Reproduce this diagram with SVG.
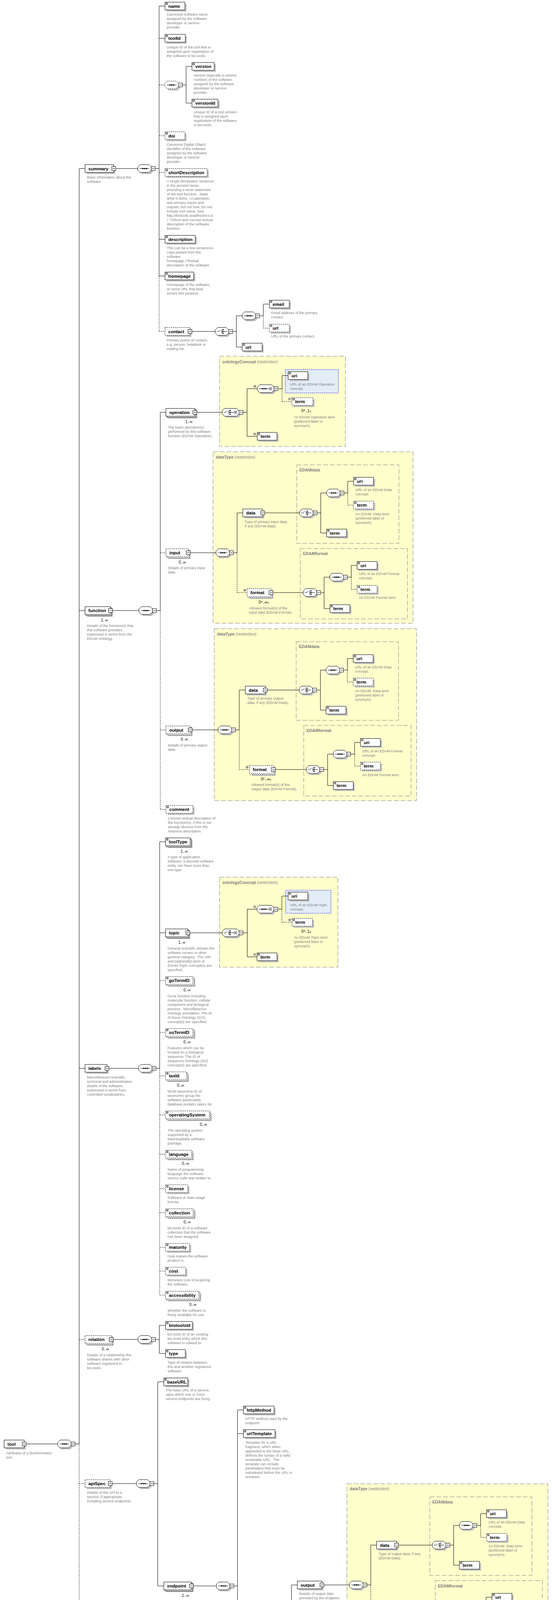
<svg xmlns="http://www.w3.org/2000/svg" xmlns:xlink="http://www.w3.org/1999/xlink" width="1412" height="7172" viewBox="0 0 1412 7172">
<style>
.s{fill:#c0c0c0}
.b{fill:#fff;stroke:#000}
.bo{fill:#fff;stroke:#000;stroke-dasharray:3 2}
.t{font:bold 11.5px "Liberation Sans",Arial,sans-serif;fill:#000}
.d{font:9.3px "Liberation Sans",Arial,sans-serif;fill:#808080}
.c{font:10px "Liberation Sans",Arial,sans-serif;fill:#000;text-anchor:end}
.pm{font-size:7.5px}
.yt{font:bold 10.5px "Liberation Sans",Arial,sans-serif;fill:#808080}
.yn{font-weight:normal}
.y{fill:#ffffcc;stroke:#808080;stroke-dasharray:12 5}
.yi{fill:none;stroke:#808080;stroke-dasharray:12 5}
.bl{fill:#e2edf8;stroke:#0000ff;stroke-dasharray:3 2}
.k{fill:none;stroke:#000}
.ds{fill:none;stroke:#000;stroke-dasharray:3 2}
</style>
<defs>
<g id="mi"><rect width="10" height="10" fill="#fff" stroke="#000"/><path d="M2 5h6" stroke="#000"/></g>
<g id="ic"><path d="M1.5 2h6M1.5 4h6M1.5 6h6" stroke="#000" stroke-width=".9"/></g>
<g id="ra"><path d="M2.5 17.5l3.5-3.5M3.5 14h2.5v2.5" stroke="#000" stroke-width=".9" fill="none"/></g>
<g id="ox"><circle r="3" fill="#e8e8e8" stroke="#555" stroke-width=".8"/><path d="M-1.5-1.5l3 3M1.5-1.5l-3 3" stroke="#000" stroke-width=".8"/></g>
<polygon id="o1" points="6,0 28.5,0 34.5,6 34.5,14 28.5,20 6,20 0,14 0,6"/>
<polygon id="o2" points="6,0 37,0 43,6 43,14 37,20 6,20 0,14 0,6"/>
<g id="iseq"><path d="M5 10h24.5" stroke="#000"/><path d="M11.5 8.5h3v3h-3zM16 8.5h3v3h-3zM20.5 8.5h3v3h-3z" fill="#000"/></g>
<g id="icho"><path d="M4 10h5l4.5-4M17 5v10M17 10h13" stroke="#000" fill="none"/><path d="M18.5 4h3v2.5h-3zM18.5 8.75h3v2.5h-3zM18.5 13.5h3v2.5h-3z" fill="#000"/></g>
<g id="iall"><path d="M4 10h6M10 5v10M10 5h2M10 15h2M23 5v10M21 5h2M21 15h2M23 10h7" stroke="#000" fill="none"/><path d="M15 4.5h3v2.5h-3zM15 8.75h3v2.5h-3zM15 13h3v2.5h-3z" fill="#000"/></g>
<g id="dd"><rect x="30.5" y="6.5" width="7" height="7" fill="#d8d8d8" stroke="#888"/><path d="M32 9h4l-2 2.5z" fill="#000"/></g>
<g id="seq"><use href="#o1" x="4" y="4" class="s"/><use href="#o1" class="b"/><use href="#iseq"/><use href="#mi" x="34.5" y="5"/></g>
<g id="seqo"><use href="#o1" x="4" y="4" class="s"/><use href="#o1" class="bo"/><use href="#iseq"/><use href="#mi" x="34.5" y="5"/></g>
<g id="cho"><use href="#o1" x="4" y="4" class="s"/><use href="#o1" class="b"/><use href="#icho"/><use href="#mi" x="34.5" y="5"/></g>
<g id="choo"><use href="#o1" x="4" y="4" class="s"/><use href="#o1" class="bo"/><use href="#icho"/><use href="#mi" x="34.5" y="5"/></g>
<g id="all"><use href="#o1" x="4" y="4" class="s"/><use href="#o1" class="b"/><use href="#iall"/><use href="#mi" x="34.5" y="5"/></g>
<g id="seqR"><use href="#o2" x="4" y="4" class="s"/><use href="#o2" class="b"/><use href="#iseq"/><use href="#dd"/><use href="#mi" x="43" y="5"/></g>
<g id="choR"><use href="#o2" x="4" y="4" class="s"/><use href="#o2" class="b"/><use href="#icho"/><use href="#dd"/><use href="#mi" x="43" y="5"/></g>
<g id="allR"><use href="#o2" x="4" y="4" class="s"/><use href="#o2" class="b"/><use href="#iall"/><use href="#dd"/><use href="#mi" x="43" y="5"/></g>
</defs>
<rect width="1412" height="7172" fill="#fff"/>

<g id="regions">
<rect class="y" x="561.5" y="912" width="322" height="231"/><text class="yt" x="568.5" y="929.5">ontologyConcept<tspan class="yn"> (restriction)</tspan></text>
<rect class="bl" x="730" y="946" width="135.5" height="60"/>
<rect class="y" x="545" y="1156.5" width="511.5" height="439"/><text class="yt" x="552" y="1173.5">dataType<tspan class="yn"> (restriction)</tspan></text>
<rect class="yi" x="759" y="1190" width="261.5" height="201"/><text class="yt" x="766" y="1206.5">EDAMdata</text>
<rect class="yi" x="768" y="1404.5" width="274.5" height="180"/><text class="yt" x="775" y="1421">EDAMformat</text>
<rect class="y" x="548" y="1609.5" width="517.5" height="440"/><text class="yt" x="555" y="1626.5">dataType<tspan class="yn"> (restriction)</tspan></text>
<rect class="yi" x="757.5" y="1643" width="262" height="201"/><text class="yt" x="764.5" y="1659">EDAMdata</text>
<rect class="yi" x="777" y="1857" width="274.5" height="181"/><text class="yt" x="784" y="1874">EDAMformat</text>
<rect class="y" x="561.5" y="2245.5" width="303" height="230.5"/><text class="yt" x="568.5" y="2262.5">ontologyConcept<tspan class="yn"> (restriction)</tspan></text>
<rect class="bl" x="730.5" y="2279" width="116" height="59"/>
<rect class="y" x="887.5" y="3798.5" width="514" height="439.5"/><text class="yt" x="894.5" y="3815">dataType<tspan class="yn"> (restriction)</tspan></text>
<rect class="yi" x="1099.5" y="3832" width="261" height="201"/><text class="yt" x="1106" y="3848.5">EDAMdata</text>
<rect class="yi" x="1113.5" y="4046.5" width="274" height="179.5"/><text class="yt" x="1120" y="4063.5">EDAMformat</text>
<rect class="y" x="1103.5" y="4439.5" width="261" height="202"/><text class="yt" x="1110" y="4456.5">EDAMdata</text>
<rect class="y" x="357.5" y="4748.5" width="228" height="244"/><text class="yt" x="364.5" y="4766">linkType<tspan class="yn"> (restriction)</tspan></text>
<rect class="bl" x="437" y="4842.5" width="131.5" height="70.5"/>
<rect class="y" x="356" y="5503.5" width="230.5" height="244"/><text class="yt" x="363" y="5520.5">linkType<tspan class="yn"> (restriction)</tspan></text>
<rect class="bl" x="436" y="5597.5" width="134.5" height="138"/>
</g>

<g id="connectors">
<path class="k" d="M62 3696.5H147.5M192 3696.5H202.5M202.5 431.5V3696.5M202.5 431.5H217.5M202.5 1563H217.5M202.5 2735H217.5"/>
<path class="ds" d="M202.5 3696.5V6961M202.5 3429H217.5M202.5 3798H217.5M202.5 4863H217.5M202.5 5228H217.5M202.5 5610H217.5M202.5 6094.5H217.5M202.5 6493.5H217.5M202.5 6961H217.5"/>
<path class="k" d="M291 431.5H352.5M397 431.5H407M407 15.5V706.5M407 15.5H422M407 98H422M407 612.5H422M407 706.5H422M466.5 217.5H476M476 170V264M476 170H491M476 264H491M486 848.5H550.5M595 848.5H604.5M604.5 808.5V888.5M604.5 808.5H619.5M604.5 888.5H619.5M664 808.5H673.5M673.5 778.5V808.5M673.5 778.5H689"/>
<path class="ds" d="M407 706.5V848.5M407 217.5H422M407 347.5H422M407 441.5H422M407 848.5H422M673.5 808.5V840M673.5 840H689"/>
<path class="k" d="M282.5 1563H355.5M400 1563H410M410 1055.5V1563M410 1055.5H424.5M498.5 1055.5H568.5M622 1055.5H632M632 995V1117M632 995H658M632 1117H658M711.5 995H721.5M721.5 961.5V995M721.5 961.5H737M481.5 1415H552.5M597 1415H606.5M606.5 1313V1415M606.5 1313H621M672 1313H766.5M811 1313H820.5M820.5 1262V1364.5M820.5 1262H835.5M820.5 1364.5H835.5M880 1262H889.5M889.5 1232V1262M889.5 1232H904.5M693 1517H775.5M820 1517H829M829 1477.5V1558M829 1477.5H844M829 1558H844M888.5 1477.5H898.5M898.5 1447.5V1477.5M898.5 1447.5H913.5M486.5 1868.5H558M602.5 1868.5H612M612 1766.5V1868.5M612 1766.5H627.5M678.5 1766.5H765.5M810 1766.5H819.5M819.5 1715.5V1818M819.5 1715.5H834M819.5 1818H834M878.5 1715.5H888.5M888.5 1686V1715.5M888.5 1686H903.5M699 1970H783.5M828 1970H838M838 1930.5V2011M838 1930.5H852.5M838 2011H852.5M897 1930.5H907M907 1900.5V1930.5M907 1900.5H922"/>
<path class="ds" d="M410 1563V2072M410 1415H424.5M410 1868.5H424.5M410 2072H424.5M721.5 995V1028M721.5 1028H746.5M606.5 1415V1517M606.5 1517H632M889.5 1262V1293M889.5 1293H904.5M898.5 1477.5V1508.5M898.5 1508.5H913.5M612 1868.5V1970M612 1970H638M888.5 1715.5V1746M888.5 1746H903.5M907 1930.5V1961M907 1961H922"/>
<path class="k" d="M273.5 2735H354.5M399 2735H408.5M408.5 2155V2735M408.5 2155H423.5M408.5 2388H423.5M480.5 2388H568.5M622 2388H632.5M632.5 2327.5V2449.5M632.5 2327.5H657.5M632.5 2449.5H657.5M711 2327.5H721M721 2294V2327.5M721 2294H737"/>
<path class="ds" d="M408.5 2735V3315.5M408.5 2510H423.5M408.5 2643H423.5M408.5 2754H423.5M408.5 2854H423.5M408.5 2954.5H423.5M408.5 3043H423.5M408.5 3104.5H423.5M408.5 3193H423.5M408.5 3254H423.5M408.5 3315.5H423.5M721 2327.5V2361M721 2361H747"/>
<path class="k" d="M284.5 3429H353M397.5 3429H407.5M407.5 3393V3465M407.5 3393H423.5M407.5 3465H423.5"/>
<path class="k" d="M282 3798H349M393.5 3798H403.5M403.5 3537.5V4060M403.5 3537.5H419M403.5 4060H419M489.5 4060H553.5M598 4060H607.5M607.5 3609.5V4240M607.5 3609.5H622.5M607.5 3670H622.5M607.5 4240H622.5M667 4240H676.5M676.5 4159V4323M676.5 4159H691.5M676.5 4323H692M736 4159H745.5M745.5 4057.5V4159M745.5 4057.5H760.5M823.5 4057.5H894M938.5 4057.5H948.5M948.5 3955.5V4057.5M948.5 3955.5H963.5M1014.5 3955.5H1106M1150.5 3955.5H1160.5M1160.5 3905V4007M1160.5 3905H1175M1160.5 4007H1175M1219.5 3905H1229.5M1229.5 3875V3905M1229.5 3875H1244.5M1035 4159H1120M1164.5 4159H1174.5M1174.5 4119V4200M1174.5 4119H1189.5M1174.5 4200H1189.5M1234 4119H1243.5M1243.5 4089V4119M1243.5 4089H1258.5M705.5 4512H760.5M805 4512H814.5M814.5 4355.5V4669M814.5 4355.5H828.5M814.5 4669H829M873.5 4669H883.5M883.5 4613V4725M883.5 4613H897M883.5 4725H897.5M941.5 4613H951.5M951.5 4563V4613M951.5 4563H966.5M1022.5 4563H1110M1154.5 4563H1164.5M1164.5 4512.5V4615M1164.5 4512.5H1179M1164.5 4615H1179M1223.5 4512.5H1233.5M1233.5 4482.5V4512.5M1233.5 4482.5H1248.5"/>
<path class="ds" d="M607.5 4240V4512M607.5 4512H622.5M745.5 4159V4261.5M745.5 4261.5H760.5M948.5 4057.5V4159M948.5 4159H973.5M1229.5 3905V3935.5M1229.5 3935.5H1244.5M1243.5 4119V4150.5M1243.5 4150.5H1258.5M951.5 4613V4664.5M951.5 4664.5H966.5M1233.5 4512.5V4543.5M1233.5 4543.5H1248.5"/>
<path class="k" d="M273.5 4863H364.5M418 4863H428M428 4791V4863M428 4791H443.5M428 4858H443.5"/>
<path class="ds" d="M428 4863V4936M428 4936H453.5"/>
<path class="k" d="M297.5 5228H353.5M398 5228H408M408 5015V5228M408 5015H423M408 5087.5H423"/>
<path class="ds" d="M408 5228V5441M408 5148H423M408 5209H423M408 5336H423M408 5441H423"/>
<path class="k" d="M326.5 5610H363.5M417 5610H427.5M427.5 5546V5613M427.5 5546H442.5M427.5 5613H442.5"/>
<path class="ds" d="M427.5 5613V5674.5M427.5 5674.5H452.5"/>
<path class="k" d="M303.5 6094.5H339.5M384 6094.5H393.5M393.5 5986.5V6094.5M393.5 5986.5H408M452.5 5986.5H462M462 5842.5V6130.5M462 5842.5H477M462 6022H477M462 6130.5H477M521.5 5842.5H531.5M531.5 5770V5842.5M531.5 5770H546M521.5 6022H531.5M531.5 5986V6022M531.5 5986H546M521.5 6130.5H532.5"/>
<path class="ds" d="M393.5 6094.5V6202M393.5 6202H408M531.5 5842.5V5914.5M531.5 5842.5H546M531.5 5914.5H546M531.5 6022V6058.5M531.5 6058.5H546"/>
<path class="k" d="M275.5 6493.5H358M402.5 6493.5H412M412 6252.5V6493.5M412 6252.5H426.5M412 6394H426M470.5 6394H480.5M480.5 6343V6446M480.5 6343H496M480.5 6446H495.5M540.5 6343H549.5M549.5 6313V6343M549.5 6313H564.5M470.5 6509H480.5M480.5 6479V6540M480.5 6479H495.5M480.5 6540H495.5"/>
<path class="ds" d="M412 6493.5V6734.5M412 6509H426M412 6612.5H426.5M412 6673.5H426.5M412 6734.5H426.5M549.5 6343V6374.5M549.5 6374.5H564.5"/>
<path class="k" d="M291.5 6961H358M402.5 6961H412M412 6784.5V7089M412 6784.5H426.5M412 6845.5H426.5M412 6906.5H426.5M412 6978H426.5M412 7039H426.5M412 7089H426.5"/>
<path class="ds" d="M412 7089V7139M412 7139H426.5"/>
</g>

<g id="compositors">
<use href="#seq" x="147.5" y="3686.5"/>
<use href="#seq" x="352.5" y="421.5"/><use href="#seqo" x="422" y="207.5"/><use href="#cho" x="550.5" y="838.5"/><use href="#seq" x="619.5" y="798.5"/>
<use href="#seq" x="355.5" y="1553"/><use href="#choR" x="568.5" y="1045.5"/><use href="#seqR" x="658" y="985"/><use href="#ox" x="652" y="989"/>
<use href="#seq" x="552.5" y="1405"/><use href="#cho" x="766.5" y="1303"/><use href="#seq" x="835.5" y="1252"/><use href="#cho" x="775.5" y="1507"/><use href="#seq" x="844" y="1467.5"/>
<use href="#seq" x="558" y="1858.5"/><use href="#cho" x="765.5" y="1756.5"/><use href="#seq" x="834" y="1705.5"/><use href="#cho" x="783.5" y="1960"/><use href="#seq" x="852.5" y="1920.5"/>
<use href="#seq" x="354.5" y="2725"/><use href="#choR" x="568.5" y="2378"/><use href="#seqR" x="657.5" y="2317.5"/><use href="#ox" x="651.5" y="2321.5"/>
<use href="#seq" x="353" y="3419"/>
<use href="#seq" x="349" y="3788"/><use href="#seq" x="553.5" y="4050"/><use href="#cho" x="622.5" y="4230"/><use href="#seq" x="691.5" y="4149"/><use href="#seq" x="894" y="4047.5"/><use href="#cho" x="1106" y="3945.5"/><use href="#seq" x="1175" y="3895"/><use href="#cho" x="1120" y="4149"/><use href="#seq" x="1189.5" y="4109"/>
<use href="#seq" x="760.5" y="4502"/><use href="#cho" x="829" y="4659"/><use href="#seq" x="897" y="4603"/><use href="#cho" x="1110" y="4553"/><use href="#seq" x="1179" y="4502.5"/>
<use href="#allR" x="364.5" y="4853"/>
<use href="#all" x="353.5" y="5218"/>
<use href="#allR" x="363.5" y="5600"/>
<use href="#seq" x="339.5" y="6084.5"/><use href="#cho" x="408" y="5976.5"/><use href="#seq" x="477" y="5832.5"/><use href="#seq" x="477" y="6012"/><use href="#seq" x="477" y="6120.5"/>
<use href="#seq" x="358" y="6483.5"/><use href="#cho" x="426" y="6384"/><use href="#seq" x="496" y="6333"/><use href="#choo" x="426" y="6499"/>
<use href="#seq" x="358" y="6951"/>
</g>

<g id="n-tool"><rect class="s" x="14.5" y="3690.5" width="51.5" height="20"/><rect class="b" x="10.5" y="3686.5" width="51.5" height="20"/><text class="t" x="19" y="3700.5">tool</text><use href="#mi" x="57" y="3691.5"/><text class="d" x="15.5" y="3722.5">Attributes of a bioinformatics<tspan x="15.5" dy="11">tool.</tspan></text></g>

<g id="n-summary"><rect class="s" x="221.5" y="425.5" width="73.5" height="20"/><rect class="b" x="217.5" y="421.5" width="73.5" height="20"/><text class="t" x="226" y="435.5">summary</text><use href="#mi" x="286" y="426.5"/><text class="d" x="222.5" y="457">Basic information about the<tspan x="222.5" dy="11">software.</tspan></text></g>
<g id="n-name"><rect class="s" x="426" y="9.5" width="51" height="20"/><rect class="b" x="422" y="5.5" width="51" height="20"/><use href="#ic" x="422" y="5.5"/><text class="t" x="430.5" y="19.5">name</text><text class="d" x="426.5" y="40.3">Canonical software name<tspan x="426.5" dy="11">assigned by the software</tspan><tspan x="426.5" dy="11">developer or service</tspan><tspan x="426.5" dy="11">provider.</tspan></text></g>
<g id="n-toolId"><rect class="s" x="426" y="92" width="52" height="20"/><rect class="b" x="422" y="88" width="52" height="20"/><use href="#ic" x="422" y="88"/><text class="t" x="430.5" y="102">toolId</text><text class="d" x="426.5" y="123.8">Unique ID of the tool that is<tspan x="426.5" dy="11">assigned upon registration of</tspan><tspan x="426.5" dy="11">the software in bio.tools.</tspan></text></g>
<g id="n-version"><rect class="s" x="495" y="164" width="57" height="20"/><rect class="b" x="491" y="160" width="57" height="20"/><use href="#ic" x="491" y="160"/><text class="t" x="499.5" y="174">version</text><text class="d" x="495.5" y="195.6">Version (typically a version<tspan x="495.5" dy="11">number) of the software</tspan><tspan x="495.5" dy="11">assigned by the software</tspan><tspan x="495.5" dy="11">developer or service</tspan><tspan x="495.5" dy="11">provider.</tspan></text></g>
<g id="n-versionId"><rect class="s" x="495" y="258" width="66.5" height="20"/><rect class="b" x="491" y="254" width="66.5" height="20"/><use href="#ic" x="491" y="254"/><text class="t" x="499.5" y="268">versionId</text><text class="d" x="495.5" y="289.8">Unique ID of a tool version<tspan x="495.5" dy="11">that is assigned upon</tspan><tspan x="495.5" dy="11">registration of the software</tspan><tspan x="495.5" dy="11">in bio.tools.</tspan></text></g>
<g id="n-doi"><rect class="s" x="426" y="341.5" width="51" height="20"/><rect class="bo" x="422" y="337.5" width="51" height="20"/><use href="#ic" x="422" y="337.5"/><text class="t" x="430.5" y="351.5">doi</text><text class="d" x="426.5" y="373">Canonical Digital Object<tspan x="426.5" dy="11">Identifier of the software</tspan><tspan x="426.5" dy="11">assigned by the software</tspan><tspan x="426.5" dy="11">developer or service</tspan><tspan x="426.5" dy="11">provider.</tspan></text></g>
<g id="n-shortDescription"><rect class="s" x="426" y="435.5" width="108" height="20"/><rect class="bo" x="422" y="431.5" width="108" height="20"/><use href="#ic" x="422" y="431.5"/><text class="t" x="430.5" y="445.5">shortDescription</text><text class="d" x="426.5" y="467">A single declarative sentence<tspan x="426.5" dy="11">in the present tense,</tspan><tspan x="426.5" dy="11">providing a terse statement</tspan><tspan x="426.5" dy="11">of the tool function.&#160; State</tspan><tspan x="426.5" dy="11">what is done, i.e.operation,</tspan><tspan x="426.5" dy="11">and primary inputs and</tspan><tspan x="426.5" dy="11">outputs, but not how. Do not</tspan><tspan x="426.5" dy="11">include tool name. See</tspan><tspan x="426.5" dy="11">http://biotools.readthedocs.io</tspan><tspan x="426.5" dy="11">/.&quot;&gt;Short and concise textual</tspan><tspan x="426.5" dy="11">description of the software</tspan><tspan x="426.5" dy="11">function.</tspan></text></g>
<g id="n-description"><rect class="s" x="426" y="606.5" width="77.5" height="20"/><rect class="b" x="422" y="602.5" width="77.5" height="20"/><use href="#ic" x="422" y="602.5"/><text class="t" x="430.5" y="616.5">description</text><text class="d" x="426.5" y="638">This can be a few sentences<tspan x="426.5" dy="11">copy-pasted from the</tspan><tspan x="426.5" dy="11">software</tspan><tspan x="426.5" dy="11">homepage.&gt;Textual</tspan><tspan x="426.5" dy="11">description of the software.</tspan></text></g>
<g id="n-homepage"><rect class="s" x="426" y="700.5" width="73.5" height="20"/><rect class="b" x="422" y="696.5" width="73.5" height="20"/><use href="#ic" x="422" y="696.5"/><text class="t" x="430.5" y="710.5">homepage</text><text class="d" x="426.5" y="732">Homepage of the software,<tspan x="426.5" dy="11">or some URL that best</tspan><tspan x="426.5" dy="11">serves this purpose.</tspan></text></g>
<g id="n-contact"><rect class="s" x="426" y="842.5" width="64" height="20"/><rect class="bo" x="422" y="838.5" width="64" height="20"/><text class="t" x="430.5" y="852.5">contact</text><use href="#mi" x="481" y="843.5"/><text class="d" x="426.5" y="874.3">Primary points of contact,<tspan x="426.5" dy="11">e.g. person, helpdesk or</tspan><tspan x="426.5" dy="11">mailing list.</tspan></text></g>
<g id="n-contact-email"><rect class="s" x="693" y="772.5" width="51" height="20"/><rect class="b" x="689" y="768.5" width="51" height="20"/><use href="#ic" x="689" y="768.5"/><text class="t" x="697.5" y="782.5">email</text><text class="d" x="693.5" y="804">Email address of the primary<tspan x="693.5" dy="11">contact.</tspan></text></g>
<g id="n-contact-url1"><rect class="s" x="693" y="834" width="51" height="20"/><rect class="bo" x="689" y="830" width="51" height="20"/><use href="#ic" x="689" y="830"/><text class="t" x="697.5" y="844">url</text><text class="d" x="693.5" y="864.3">URL of the primary contact.</text></g>
<g id="n-contact-url2"><rect class="s" x="623.5" y="882.5" width="51" height="20"/><rect class="b" x="619.5" y="878.5" width="51" height="20"/><use href="#ic" x="619.5" y="878.5"/><text class="t" x="628" y="892.5">url</text></g>

<g id="n-function"><rect class="s" x="223.5" y="1559" width="65" height="20"/><rect class="b" x="220.5" y="1556" width="65" height="20"/><rect class="b" x="217.5" y="1553" width="65" height="20"/><text class="t" x="226" y="1567">function</text><use href="#mi" x="277.5" y="1558"/><text class="c" x="276.5" y="1590.5">1..∞</text><text class="d" x="222.5" y="1605.3">Details of the function(s) that<tspan x="222.5" dy="11">this software provides,</tspan><tspan x="222.5" dy="11">expressed in terms from the</tspan><tspan x="222.5" dy="11">EDAM ontology.</tspan></text></g>
<g id="n-operation"><rect class="s" x="430.5" y="1051.5" width="74" height="20"/><rect class="b" x="427.5" y="1048.5" width="74" height="20"/><rect class="b" x="424.5" y="1045.5" width="74" height="20"/><text class="t" x="433" y="1059.5">operation</text><use href="#mi" x="493.5" y="1050.5"/><text class="c" x="492.5" y="1083">1..∞</text><text class="d" x="429.5" y="1097.3">The basic operation(s)<tspan x="429.5" dy="11">performed by this software</tspan><tspan x="429.5" dy="11">function (EDAM Operation).</tspan></text></g>
<g id="n-op-uri"><rect class="s" x="741" y="955.5" width="50.5" height="20"/><rect class="b" x="737" y="951.5" width="50.5" height="20"/><use href="#ic" x="737" y="951.5"/><text class="t" x="745.5" y="965.5">uri</text><text class="d" x="741.5" y="986.6">URL of an EDAM Operation<tspan x="741.5" dy="11">concept.</tspan></text></g>
<g id="n-op-term1"><rect class="s" x="750.5" y="1022" width="54" height="20"/><rect class="bo" x="746.5" y="1018" width="54" height="20"/><use href="#ic" x="746.5" y="1018"/><use href="#ox" x="740.5" y="1021.5"/><text class="t" x="755" y="1032">term</text><text class="c" x="796" y="1055">0<tspan class="pm" dy="-3">±</tspan><tspan dy="3">..1</tspan><tspan class="pm">±</tspan></text><text class="d" x="751.5" y="1070.8">An EDAM Operation term<tspan x="751.5" dy="11">(preferred label or</tspan><tspan x="751.5" dy="11">synonym).</tspan></text></g>
<g id="n-op-term2"><rect class="s" x="662" y="1111" width="50.5" height="20"/><rect class="b" x="658" y="1107" width="50.5" height="20"/><use href="#ic" x="658" y="1107"/><use href="#ox" x="651.5" y="1111"/><text class="t" x="666.5" y="1121">term</text></g>

<g id="n-input"><rect class="s" x="430.5" y="1411" width="57" height="20"/><rect class="bo" x="427.5" y="1408" width="57" height="20"/><rect class="bo" x="424.5" y="1405" width="57" height="20"/><text class="t" x="433" y="1419">input</text><use href="#mi" x="476.5" y="1410"/><text class="c" x="475.5" y="1442.5">0..∞</text><text class="d" x="429.5" y="1457.3">Details of primary input<tspan x="429.5" dy="11">data.</tspan></text></g>
<g id="n-in-data"><rect class="s" x="625" y="1307" width="51" height="20"/><rect class="b" x="621" y="1303" width="51" height="20"/><text class="t" x="629.5" y="1317">data</text><use href="#mi" x="667" y="1308"/><text class="d" x="626" y="1338.7">Type of primary input data,<tspan x="626" dy="11">if any (EDAM data).</tspan></text></g>
<g id="n-in-data-uri"><rect class="s" x="908.5" y="1226" width="51" height="20"/><rect class="b" x="904.5" y="1222" width="51" height="20"/><use href="#ic" x="904.5" y="1222"/><text class="t" x="913" y="1236">uri</text><text class="d" x="909" y="1257.3">URL of an EDAM Data<tspan x="909" dy="11">concept.</tspan></text></g>
<g id="n-in-data-term1"><rect class="s" x="908.5" y="1287" width="51" height="20"/><rect class="bo" x="904.5" y="1283" width="51" height="20"/><use href="#ic" x="904.5" y="1283"/><text class="t" x="913" y="1297">term</text><text class="d" x="909" y="1318.9">An EDAM&#160; Data term<tspan x="909" dy="11">(preferred label or</tspan><tspan x="909" dy="11">synonym).</tspan></text></g>
<g id="n-in-data-term2"><rect class="s" x="839.5" y="1358.5" width="51" height="20"/><rect class="b" x="835.5" y="1354.5" width="51" height="20"/><use href="#ic" x="835.5" y="1354.5"/><text class="t" x="844" y="1368.5">term</text></g>
<g id="n-in-format"><rect class="s" x="638" y="1513" width="61" height="20"/><rect class="bo" x="635" y="1510" width="61" height="20"/><rect class="bo" x="632" y="1507" width="61" height="20"/><use href="#ox" x="626" y="1511"/><text class="t" x="640.5" y="1521">format</text><use href="#mi" x="688" y="1512"/><text class="c" x="688" y="1544.5">0<tspan class="pm" dy="-3">±</tspan><tspan dy="3">..∞</tspan><tspan class="pm">±</tspan></text><text class="d" x="637" y="1559.6">Allowed format(s) of the<tspan x="637" dy="11">input data (EDAM Format).</tspan></text></g>
<g id="n-in-fmt-uri"><rect class="s" x="917.5" y="1441.5" width="51" height="20"/><rect class="b" x="913.5" y="1437.5" width="51" height="20"/><use href="#ic" x="913.5" y="1437.5"/><text class="t" x="922" y="1451.5">uri</text><text class="d" x="918" y="1472.3">URL of an EDAM Format<tspan x="918" dy="11">concept.</tspan></text></g>
<g id="n-in-fmt-term1"><rect class="s" x="917.5" y="1502.5" width="51" height="20"/><rect class="bo" x="913.5" y="1498.5" width="51" height="20"/><use href="#ic" x="913.5" y="1498.5"/><text class="t" x="922" y="1512.5">term</text><text class="d" x="918" y="1533.3">An EDAM Format term.</text></g>
<g id="n-in-fmt-term2"><rect class="s" x="848" y="1552" width="51" height="20"/><rect class="b" x="844" y="1548" width="51" height="20"/><use href="#ic" x="844" y="1548"/><text class="t" x="852.5" y="1562">term</text></g>

<g id="n-output"><rect class="s" x="430.5" y="1864.5" width="62" height="20"/><rect class="bo" x="427.5" y="1861.5" width="62" height="20"/><rect class="bo" x="424.5" y="1858.5" width="62" height="20"/><text class="t" x="433" y="1872.5">output</text><use href="#mi" x="481.5" y="1863.5"/><text class="c" x="480.5" y="1896">0..∞</text><text class="d" x="429.5" y="1911">Details of primary output<tspan x="429.5" dy="11">data.</tspan></text></g>
<g id="n-out-data"><rect class="s" x="631.5" y="1760.5" width="51" height="20"/><rect class="b" x="627.5" y="1756.5" width="51" height="20"/><text class="t" x="636" y="1770.5">data</text><use href="#mi" x="673.5" y="1761.5"/><text class="d" x="632.5" y="1791.3">Type of primary output<tspan x="632.5" dy="11">data, if any (EDAM Data).</tspan></text></g>
<g id="n-out-data-uri"><rect class="s" x="907.5" y="1680" width="51" height="20"/><rect class="b" x="903.5" y="1676" width="51" height="20"/><use href="#ic" x="903.5" y="1676"/><text class="t" x="912" y="1690">uri</text><text class="d" x="908" y="1710.5">URL of an EDAM Data<tspan x="908" dy="11">concept.</tspan></text></g>
<g id="n-out-data-term1"><rect class="s" x="907.5" y="1740" width="51" height="20"/><rect class="bo" x="903.5" y="1736" width="51" height="20"/><use href="#ic" x="903.5" y="1736"/><text class="t" x="912" y="1750">term</text><text class="d" x="908" y="1771.7">An EDAM&#160; Data term<tspan x="908" dy="11">(preferred label or</tspan><tspan x="908" dy="11">synonym).</tspan></text></g>
<g id="n-out-data-term2"><rect class="s" x="838" y="1812" width="51" height="20"/><rect class="b" x="834" y="1808" width="51" height="20"/><use href="#ic" x="834" y="1808"/><text class="t" x="842.5" y="1822">term</text></g>
<g id="n-out-format"><rect class="s" x="644" y="1966" width="61" height="20"/><rect class="bo" x="641" y="1963" width="61" height="20"/><rect class="bo" x="638" y="1960" width="61" height="20"/><use href="#ox" x="632" y="1964"/><text class="t" x="646.5" y="1974">format</text><use href="#mi" x="694" y="1965"/><text class="c" x="694" y="1997.5">0<tspan class="pm" dy="-3">±</tspan><tspan dy="3">..∞</tspan><tspan class="pm">±</tspan></text><text class="d" x="643" y="2012.3">Allowed format(s) of the<tspan x="643" dy="11">output data (EDAM Format).</tspan></text></g>
<g id="n-out-fmt-uri"><rect class="s" x="926" y="1894.5" width="51" height="20"/><rect class="b" x="922" y="1890.5" width="51" height="20"/><use href="#ic" x="922" y="1890.5"/><text class="t" x="930.5" y="1904.5">uri</text><text class="d" x="926.5" y="1925.6">URL of an EDAM Format<tspan x="926.5" dy="11">concept.</tspan></text></g>
<g id="n-out-fmt-term1"><rect class="s" x="926" y="1955" width="51" height="20"/><rect class="bo" x="922" y="1951" width="51" height="20"/><use href="#ic" x="922" y="1951"/><text class="t" x="930.5" y="1965">term</text><text class="d" x="926.5" y="1986.8">An EDAM Format term.</text></g>
<g id="n-out-fmt-term2"><rect class="s" x="856.5" y="2005" width="51" height="20"/><rect class="b" x="852.5" y="2001" width="51" height="20"/><use href="#ic" x="852.5" y="2001"/><text class="t" x="861" y="2015">term</text></g>
<g id="n-fn-comment"><rect class="s" x="428.5" y="2066" width="69" height="20"/><rect class="bo" x="424.5" y="2062" width="69" height="20"/><use href="#ic" x="424.5" y="2062"/><text class="t" x="433" y="2076">comment</text><text class="d" x="429.5" y="2098">Concise textual description of<tspan x="429.5" dy="11">the function(s), if this is not</tspan><tspan x="429.5" dy="11">already obvious from the</tspan><tspan x="429.5" dy="11">resource description.</tspan></text></g>

<g id="n-labels"><rect class="s" x="221.5" y="2729" width="56" height="20"/><rect class="b" x="217.5" y="2725" width="56" height="20"/><text class="t" x="226" y="2739">labels</text><use href="#mi" x="268.5" y="2730"/><text class="d" x="222.5" y="2760.5">Miscellaneous scientific,<tspan x="222.5" dy="11">technical and administrative</tspan><tspan x="222.5" dy="11">details of the software,</tspan><tspan x="222.5" dy="11">expressed in terms from</tspan><tspan x="222.5" dy="11">controlled vocabularies.</tspan></text></g>
<g id="n-toolType"><rect class="s" x="429.5" y="2151" width="63" height="20"/><rect class="b" x="426.5" y="2148" width="63" height="20"/><rect class="b" x="423.5" y="2145" width="63" height="20"/><use href="#ic" x="423.5" y="2145"/><text class="t" x="432" y="2159">toolType</text><text class="c" x="480.5" y="2182.5">1..∞</text><text class="d" x="428.5" y="2197.3">A type of application<tspan x="428.5" dy="11">software: a discrete software</tspan><tspan x="428.5" dy="11">entity can have more than</tspan><tspan x="428.5" dy="11">one type.</tspan></text></g>
<g id="n-topic"><rect class="s" x="429.5" y="2384" width="57" height="20"/><rect class="b" x="426.5" y="2381" width="57" height="20"/><rect class="b" x="423.5" y="2378" width="57" height="20"/><text class="t" x="432" y="2392">topic</text><use href="#mi" x="475.5" y="2383"/><text class="c" x="474.5" y="2415.5">1..∞</text><text class="d" x="428.5" y="2430.7">General scientific domain the<tspan x="428.5" dy="11">software serves or other</tspan><tspan x="428.5" dy="11">general category.&#160; The URI</tspan><tspan x="428.5" dy="11">and (optionally) term of</tspan><tspan x="428.5" dy="11">EDAM Topic concept(s) are</tspan><tspan x="428.5" dy="11">specified.</tspan></text></g>
<g id="n-topic-uri"><rect class="s" x="741" y="2288" width="50.5" height="20"/><rect class="b" x="737" y="2284" width="50.5" height="20"/><use href="#ic" x="737" y="2284"/><text class="t" x="745.5" y="2298">uri</text><text class="d" x="742" y="2319.7">URL of an EDAM Topic<tspan x="742" dy="11">concept.</tspan></text></g>
<g id="n-topic-term1"><rect class="s" x="751" y="2355" width="52" height="20"/><rect class="bo" x="747" y="2351" width="52" height="20"/><use href="#ic" x="747" y="2351"/><use href="#ox" x="741" y="2355"/><text class="t" x="755.5" y="2365">term</text><text class="c" x="796" y="2388">0<tspan class="pm" dy="-3">±</tspan><tspan dy="3">..1</tspan><tspan class="pm">±</tspan></text><text class="d" x="752" y="2403.3">An EDAM Topic term<tspan x="752" dy="11">(preferred label or</tspan><tspan x="752" dy="11">synonym).</tspan></text></g>
<g id="n-topic-term2"><rect class="s" x="661.5" y="2443.5" width="51" height="20"/><rect class="b" x="657.5" y="2439.5" width="51" height="20"/><use href="#ic" x="657.5" y="2439.5"/><use href="#ox" x="651.5" y="2443.5"/><text class="t" x="666" y="2453.5">term</text></g>
<g id="n-goTermID"><rect class="s" x="429.5" y="2506" width="70" height="20"/><rect class="bo" x="426.5" y="2503" width="70" height="20"/><rect class="bo" x="423.5" y="2500" width="70" height="20"/><use href="#ic" x="423.5" y="2500"/><text class="t" x="432" y="2514">goTermID</text><text class="c" x="487.5" y="2537.5">0..∞</text><text class="d" x="428.5" y="2552.6">Gene function including<tspan x="428.5" dy="11">molecular function, cellular</tspan><tspan x="428.5" dy="11">component and biological</tspan><tspan x="428.5" dy="11">process.&#160; Miscellaneous</tspan><tspan x="428.5" dy="11">ontology annotation. The ID</tspan><tspan x="428.5" dy="11">of Gene Ontology (GO)</tspan><tspan x="428.5" dy="11">concept(s) are specified.</tspan></text></g>
<g id="n-soTermID"><rect class="s" x="429.5" y="2639" width="70" height="20"/><rect class="bo" x="426.5" y="2636" width="70" height="20"/><rect class="bo" x="423.5" y="2633" width="70" height="20"/><use href="#ic" x="423.5" y="2633"/><text class="t" x="432" y="2647">soTermID</text><text class="c" x="487.5" y="2670.5">0..∞</text><text class="d" x="428.5" y="2686">Features which can be<tspan x="428.5" dy="11">located on a biological</tspan><tspan x="428.5" dy="11">sequence. The ID of</tspan><tspan x="428.5" dy="11">Sequence Ontology (SO)</tspan><tspan x="428.5" dy="11">concept(s) are specified.</tspan></text></g>
<g id="n-taxId"><rect class="s" x="429.5" y="2750" width="53.5" height="20"/><rect class="bo" x="426.5" y="2747" width="53.5" height="20"/><rect class="bo" x="423.5" y="2744" width="53.5" height="20"/><use href="#ic" x="423.5" y="2744"/><text class="t" x="432" y="2758">taxId</text><text class="c" x="471" y="2781.5">0..∞</text><text class="d" x="428.5" y="2797">NCBI taxonomy ID of<tspan x="428.5" dy="11">taxonomic group the</tspan><tspan x="428.5" dy="11">software (particularly</tspan><tspan x="428.5" dy="11">database portals) caters for.</tspan></text></g>
<g id="n-operatingSystem"><rect class="s" x="429.5" y="2850" width="112" height="20"/><rect class="bo" x="426.5" y="2847" width="112" height="20"/><rect class="bo" x="423.5" y="2844" width="112" height="20"/><use href="#ic" x="423.5" y="2844"/><text class="t" x="432" y="2858">operatingSystem</text><text class="c" x="529.5" y="2881.5">0..∞</text><text class="d" x="428.5" y="2896.5">The operating system<tspan x="428.5" dy="11">supported by a</tspan><tspan x="428.5" dy="11">downloadable software</tspan><tspan x="428.5" dy="11">package.</tspan></text></g>
<g id="n-language"><rect class="s" x="429.5" y="2950.5" width="66" height="20"/><rect class="bo" x="426.5" y="2947.5" width="66" height="20"/><rect class="bo" x="423.5" y="2944.5" width="66" height="20"/><use href="#ic" x="423.5" y="2944.5"/><text class="t" x="432" y="2958.5">language</text><text class="c" x="483.5" y="2982">0..∞</text><text class="d" x="428.5" y="2996.6">Name of programming<tspan x="428.5" dy="11">language the software</tspan><tspan x="428.5" dy="11">source code was written in.</tspan></text></g>
<g id="n-license"><rect class="s" x="427.5" y="3037" width="57" height="20"/><rect class="bo" x="423.5" y="3033" width="57" height="20"/><use href="#ic" x="423.5" y="3033"/><text class="t" x="432" y="3047">license</text><text class="d" x="428.5" y="3068.7">Software or data usage<tspan x="428.5" dy="11">license.</tspan></text></g>
<g id="n-collection"><rect class="s" x="429.5" y="3100.5" width="70.5" height="20"/><rect class="bo" x="426.5" y="3097.5" width="70.5" height="20"/><rect class="bo" x="423.5" y="3094.5" width="70.5" height="20"/><use href="#ic" x="423.5" y="3094.5"/><text class="t" x="432" y="3108.5">collection</text><text class="c" x="488" y="3132">0..∞</text><text class="d" x="428.5" y="3146.5">bio.tools ID of a software<tspan x="428.5" dy="11">collection that the software</tspan><tspan x="428.5" dy="11">has been assigned.</tspan></text></g>
<g id="n-maturity"><rect class="s" x="427.5" y="3187" width="61.5" height="20"/><rect class="bo" x="423.5" y="3183" width="61.5" height="20"/><use href="#ic" x="423.5" y="3183"/><text class="t" x="432" y="3197">maturity</text><text class="d" x="428.5" y="3218.5">How mature the software<tspan x="428.5" dy="11">product is.</tspan></text></g>
<g id="n-cost"><rect class="s" x="427.5" y="3248" width="51.5" height="20"/><rect class="bo" x="423.5" y="3244" width="51.5" height="20"/><use href="#ic" x="423.5" y="3244"/><text class="t" x="432" y="3258">cost</text><text class="d" x="428.5" y="3279.7">Monetary cost of acquiring<tspan x="428.5" dy="11">the software.</tspan></text></g>
<g id="n-accessibility"><rect class="s" x="429.5" y="3311.5" width="85" height="20"/><rect class="bo" x="426.5" y="3308.5" width="85" height="20"/><rect class="bo" x="423.5" y="3305.5" width="85" height="20"/><use href="#ic" x="423.5" y="3305.5"/><text class="t" x="432" y="3319.5">accessibility</text><text class="c" x="502.5" y="3343">0..∞</text><text class="d" x="428.5" y="3357.6">Whether the software is<tspan x="428.5" dy="11">freely available for use.</tspan></text></g>

<g id="n-relation"><rect class="s" x="223.5" y="3425" width="67" height="20"/><rect class="bo" x="220.5" y="3422" width="67" height="20"/><rect class="bo" x="217.5" y="3419" width="67" height="20"/><text class="t" x="226" y="3433">relation</text><use href="#mi" x="279.5" y="3424"/><text class="c" x="278.5" y="3456.5">0..∞</text><text class="d" x="222.5" y="3471.7">Details of a relationship this<tspan x="222.5" dy="11">software shares with other</tspan><tspan x="222.5" dy="11">software registered in</tspan><tspan x="222.5" dy="11">bio.tools.</tspan></text></g>
<g id="n-biotoolsId"><rect class="s" x="427.5" y="3387" width="68.5" height="20"/><rect class="b" x="423.5" y="3383" width="68.5" height="20"/><use href="#ic" x="423.5" y="3383"/><text class="t" x="432" y="3397">biotoolsId</text><text class="d" x="428.5" y="3418.8">bio.tools ID of an existing<tspan x="428.5" dy="11">bio.tools entry which this</tspan><tspan x="428.5" dy="11">software is related to.</tspan></text></g>
<g id="n-rel-type"><rect class="s" x="427.5" y="3459" width="50.5" height="20"/><rect class="b" x="423.5" y="3455" width="50.5" height="20"/><use href="#ic" x="423.5" y="3455"/><text class="t" x="432" y="3469">type</text><text class="d" x="428.5" y="3491">Type of relation between<tspan x="428.5" dy="11">this and another registered</tspan><tspan x="428.5" dy="11">software.</tspan></text></g>

<g id="n-apiSpec"><rect class="s" x="221.5" y="3792" width="64.5" height="20"/><rect class="bo" x="217.5" y="3788" width="64.5" height="20"/><text class="t" x="226" y="3802">apiSpec</text><use href="#mi" x="277" y="3793"/><text class="d" x="222.5" y="3824">Details of the API to a<tspan x="222.5" dy="11">service, if appropriate,</tspan><tspan x="222.5" dy="11">including service endpoints.</tspan></text></g>
<g id="n-baseURL"><rect class="s" x="423" y="3531.5" width="61.5" height="20"/><rect class="b" x="419" y="3527.5" width="61.5" height="20"/><use href="#ic" x="419" y="3527.5"/><text class="t" x="427.5" y="3541.5">baseURL</text><text class="d" x="424" y="3562.3">The base URL of a service,<tspan x="424" dy="11">upon which one or more</tspan><tspan x="424" dy="11">service endpoints are hung.</tspan></text></g>
<g id="n-endpoint"><rect class="s" x="425" y="4056" width="70.5" height="20"/><rect class="b" x="422" y="4053" width="70.5" height="20"/><rect class="b" x="419" y="4050" width="70.5" height="20"/><text class="t" x="427.5" y="4064">endpoint</text><use href="#mi" x="484.5" y="4055"/><text class="c" x="483.5" y="4087.5">1..∞</text><text class="d" x="424" y="4103">Details of an endpoint to a<tspan x="424" dy="11">service, i.e. a URL that can</tspan><tspan x="424" dy="11">be used to invoke a</tspan><tspan x="424" dy="11">particular function of a</tspan><tspan x="424" dy="11">service.</tspan></text></g>
<g id="n-httpMethod"><rect class="s" x="626.5" y="3603.5" width="78.5" height="20"/><rect class="b" x="622.5" y="3599.5" width="78.5" height="20"/><use href="#ic" x="622.5" y="3599.5"/><text class="t" x="631" y="3613.5">httpMethod</text><text class="d" x="627.5" y="3634.7">HTTP method used by the<tspan x="627.5" dy="11">endpoint.</tspan></text></g>
<g id="n-urlTemplate"><rect class="s" x="626.5" y="3664" width="81" height="20"/><rect class="b" x="622.5" y="3660" width="81" height="20"/><use href="#ic" x="622.5" y="3660"/><text class="t" x="631" y="3674">urlTemplate</text><text class="d" x="627.5" y="3695.6">Template for a URL<tspan x="627.5" dy="11">fragment, which when</tspan><tspan x="627.5" dy="11">appended to the base URL,</tspan><tspan x="627.5" dy="11">defines the syntax of a valid</tspan><tspan x="627.5" dy="11">resolvable URL.&#160; The</tspan><tspan x="627.5" dy="11">template can include</tspan><tspan x="627.5" dy="11">parameters that must be</tspan><tspan x="627.5" dy="11">substituted before the URL is</tspan><tspan x="627.5" dy="11">resolved.</tspan></text></g>
<g id="n-ep-output"><rect class="s" x="764.5" y="4051.5" width="63" height="20"/><rect class="b" x="760.5" y="4047.5" width="63" height="20"/><text class="t" x="769" y="4061.5">output</text><use href="#mi" x="818.5" y="4052.5"/><text class="d" x="765.5" y="4083">Details of output data<tspan x="765.5" dy="11">provided by the endpoint.</tspan></text></g>
<g id="n-ep-data"><rect class="s" x="967.5" y="3949.5" width="51" height="20"/><rect class="b" x="963.5" y="3945.5" width="51" height="20"/><text class="t" x="972" y="3959.5">data</text><use href="#mi" x="1009.5" y="3950.5"/><text class="d" x="968.5" y="3981">Type of output data, if any<tspan x="968.5" dy="11">(EDAM Data).</tspan></text></g>
<g id="n-ep-data-uri"><rect class="s" x="1248.5" y="3869" width="51" height="20"/><rect class="b" x="1244.5" y="3865" width="51" height="20"/><use href="#ic" x="1244.5" y="3865"/><text class="t" x="1253" y="3879">uri</text><text class="d" x="1249.5" y="3899.7">URL of an EDAM Data<tspan x="1249.5" dy="11">concept.</tspan></text></g>
<g id="n-ep-data-term1"><rect class="s" x="1248.5" y="3929.5" width="52" height="20"/><rect class="bo" x="1244.5" y="3925.5" width="52" height="20"/><use href="#ic" x="1244.5" y="3925.5"/><text class="t" x="1253" y="3939.5">term</text><text class="d" x="1249.5" y="3961">An EDAM&#160; Data term<tspan x="1249.5" dy="11">(preferred label or</tspan><tspan x="1249.5" dy="11">synonym).</tspan></text></g>
<g id="n-ep-data-term2"><rect class="s" x="1179" y="4001" width="51.5" height="20"/><rect class="b" x="1175" y="3997" width="51.5" height="20"/><use href="#ic" x="1175" y="3997"/><text class="t" x="1183.5" y="4011">term</text></g>
<g id="n-ep-format"><rect class="s" x="979.5" y="4155" width="61.5" height="20"/><rect class="bo" x="976.5" y="4152" width="61.5" height="20"/><rect class="bo" x="973.5" y="4149" width="61.5" height="20"/><use href="#ox" x="967.5" y="4153"/><text class="t" x="982" y="4163">format</text><use href="#mi" x="1030" y="4154"/><text class="c" x="1029" y="4186.5">0<tspan class="pm" dy="-3">±</tspan><tspan dy="3">..∞</tspan><tspan class="pm">±</tspan></text><text class="d" x="978.5" y="4201.7">Possible format(s) of the<tspan x="978.5" dy="11">output data (EDAM Format).</tspan></text></g>
<g id="n-ep-fmt-uri"><rect class="s" x="1262.5" y="4083" width="51" height="20"/><rect class="b" x="1258.5" y="4079" width="51" height="20"/><use href="#ic" x="1258.5" y="4079"/><text class="t" x="1267" y="4093">uri</text><text class="d" x="1263.5" y="4114.3">URL of an EDAM Format<tspan x="1263.5" dy="11">concept.</tspan></text></g>
<g id="n-ep-fmt-term1"><rect class="s" x="1262.5" y="4144.5" width="51" height="20"/><rect class="bo" x="1258.5" y="4140.5" width="51" height="20"/><use href="#ic" x="1258.5" y="4140.5"/><text class="t" x="1267" y="4154.5">term</text><text class="d" x="1263.5" y="4175.8">An EDAM Format term.</text></g>
<g id="n-ep-fmt-term2"><rect class="s" x="1193.5" y="4194" width="51" height="20"/><rect class="b" x="1189.5" y="4190" width="51" height="20"/><use href="#ic" x="1189.5" y="4190"/><text class="t" x="1198" y="4204">term</text></g>
<g id="n-ep-summary1"><rect class="s" x="764.5" y="4255.5" width="68" height="20"/><rect class="bo" x="760.5" y="4251.5" width="68" height="20"/><use href="#ic" x="760.5" y="4251.5"/><text class="t" x="769" y="4265.5">summary</text><text class="d" x="765.5" y="4287.2">A textual summary of a<tspan x="765.5" dy="11">service endpoint.</tspan></text></g>
<g id="n-ep-summary2"><rect class="s" x="696" y="4317" width="67" height="20"/><rect class="b" x="692" y="4313" width="67" height="20"/><use href="#ic" x="692" y="4313"/><text class="t" x="700.5" y="4327">summary</text></g>
<g id="n-parameter"><rect class="s" x="628.5" y="4508" width="83" height="20"/><rect class="bo" x="625.5" y="4505" width="83" height="20"/><rect class="bo" x="622.5" y="4502" width="83" height="20"/><text class="t" x="631" y="4516">parameter</text><use href="#mi" x="700.5" y="4507"/><text class="c" x="699.5" y="4539.5">0..∞</text><text class="d" x="628" y="4555">A query string parameter in<tspan x="628" dy="11">the template URL that that</tspan><tspan x="628" dy="11">must be substituted before</tspan><tspan x="628" dy="11">the URL is resolved.</tspan></text></g>
<g id="n-urlTemplateFragment"><rect class="s" x="832.5" y="4349.5" width="133" height="20"/><rect class="b" x="828.5" y="4345.5" width="133" height="20"/><use href="#ic" x="828.5" y="4345.5"/><text class="t" x="837" y="4359.5">urlTemplateFragment</text><text class="d" x="833.5" y="4381">A fragment from the URL<tspan x="833.5" dy="11">template corresponding to a</tspan><tspan x="833.5" dy="11">URL parameter, which is</tspan><tspan x="833.5" dy="11">replaced by some value when</tspan><tspan x="833.5" dy="11">the service is called.</tspan></text></g>
<g id="n-par-data"><rect class="s" x="970.5" y="4557" width="56" height="20"/><rect class="b" x="966.5" y="4553" width="56" height="20"/><text class="t" x="975" y="4567">data</text><use href="#mi" x="1017.5" y="4558"/><text class="d" x="971.5" y="4588.8">Type of data (EDAM Data)<tspan x="971.5" dy="11">of a parameter of an</tspan><tspan x="971.5" dy="11">endpoint.</tspan></text></g>
<g id="n-par-data-uri"><rect class="s" x="1252.5" y="4476.5" width="51" height="20"/><rect class="b" x="1248.5" y="4472.5" width="51" height="20"/><use href="#ic" x="1248.5" y="4472.5"/><text class="t" x="1257" y="4486.5">uri</text><text class="d" x="1253.5" y="4507.7">URL of an EDAM Data<tspan x="1253.5" dy="11">concept.</tspan></text></g>
<g id="n-par-data-term1"><rect class="s" x="1252.5" y="4537.5" width="52" height="20"/><rect class="bo" x="1248.5" y="4533.5" width="52" height="20"/><use href="#ic" x="1248.5" y="4533.5"/><text class="t" x="1257" y="4547.5">term</text><text class="d" x="1253.5" y="4569">An EDAM&#160; Data term<tspan x="1253.5" dy="11">(preferred label or</tspan><tspan x="1253.5" dy="11">synonym).</tspan></text></g>
<g id="n-par-data-term2"><rect class="s" x="1183" y="4609" width="51.5" height="20"/><rect class="b" x="1179" y="4605" width="51.5" height="20"/><use href="#ic" x="1179" y="4605"/><text class="t" x="1187.5" y="4619">term</text></g>
<g id="n-par-comment1"><rect class="s" x="970.5" y="4658.5" width="69.5" height="20"/><rect class="bo" x="966.5" y="4654.5" width="69.5" height="20"/><use href="#ic" x="966.5" y="4654.5"/><text class="t" x="975" y="4668.5">comment</text><text class="d" x="971.5" y="4690.5">A comment about a<tspan x="971.5" dy="11">parameter of an endpoint.</tspan></text></g>
<g id="n-par-comment2"><rect class="s" x="901.5" y="4719" width="68" height="20"/><rect class="b" x="897.5" y="4715" width="68" height="20"/><use href="#ic" x="897.5" y="4715"/><text class="t" x="906" y="4729">comment</text></g>

<g id="n-link"><rect class="s" x="223.5" y="4859" width="56" height="20"/><rect class="bo" x="220.5" y="4856" width="56" height="20"/><rect class="bo" x="217.5" y="4853" width="56" height="20"/><text class="t" x="226" y="4867">link</text><use href="#mi" x="268.5" y="4858"/><text class="c" x="267.5" y="4890.5">0..∞</text><text class="d" x="222.5" y="4906">Miscellaneous links e.g. repo,<tspan x="222.5" dy="11">issue tracker, mailing list etc.</tspan></text></g>
<g id="n-link-url"><rect class="s" x="447.5" y="4785" width="51" height="20"/><rect class="b" x="443.5" y="4781" width="51" height="20"/><use href="#ic" x="443.5" y="4781"/><text class="t" x="452" y="4795">url</text><text class="d" x="448.5" y="4817">A link of some relevance to<tspan x="448.5" dy="11">the software (URL).</tspan></text></g>
<g id="n-link-type"><rect class="s" x="447.5" y="4852" width="51" height="20"/><rect class="b" x="443.5" y="4848" width="51" height="20"/><use href="#ic" x="443.5" y="4848"/><text class="t" x="452" y="4862">type</text><text class="d" x="448.5" y="4884">The type of data or<tspan x="448.5" dy="11">information that is obtained</tspan><tspan x="448.5" dy="11">when the link is resolved.</tspan></text></g>
<g id="n-link-comment"><rect class="s" x="457.5" y="4930" width="71" height="20"/><rect class="bo" x="453.5" y="4926" width="71" height="20"/><use href="#ic" x="453.5" y="4926"/><use href="#ox" x="447.5" y="4930"/><text class="t" x="462" y="4940">comment</text><text class="c" x="522" y="4963.5">0<tspan class="pm" dy="-3">±</tspan><tspan dy="3">..1</tspan><tspan class="pm">±</tspan></text><text class="d" x="458.5" y="4979">Comment about the link.</text></g>

<g id="n-download"><rect class="s" x="223.5" y="5224" width="80" height="20"/><rect class="bo" x="220.5" y="5221" width="80" height="20"/><rect class="bo" x="217.5" y="5218" width="80" height="20"/><text class="t" x="226" y="5232">download</text><use href="#mi" x="292.5" y="5223"/><text class="c" x="291.5" y="5255.5">0..∞</text><text class="d" x="222.5" y="5270.7">Link to a miscellaneous<tspan x="222.5" dy="11">download for the software,</tspan><tspan x="222.5" dy="11">e.g. source code, virtual</tspan><tspan x="222.5" dy="11">machine image or container.</tspan></text></g>
<g id="n-dl-url"><rect class="s" x="427" y="5009" width="51" height="20"/><rect class="b" x="423" y="5005" width="51" height="20"/><use href="#ic" x="423" y="5005"/><text class="t" x="431.5" y="5019">url</text><text class="d" x="428" y="5041">Link to download (or repo<tspan x="428" dy="11">providing a download) for</tspan><tspan x="428" dy="11">the tool.</tspan></text></g>
<g id="n-dl-type"><rect class="s" x="427" y="5081.5" width="51" height="20"/><rect class="b" x="423" y="5077.5" width="51" height="20"/><use href="#ic" x="423" y="5077.5"/><text class="t" x="431.5" y="5091.5">type</text><text class="d" x="428" y="5112.7">Type of download that is<tspan x="428" dy="11">linked to.</tspan></text></g>
<g id="n-dl-comment"><rect class="s" x="427" y="5142" width="68" height="20"/><rect class="bo" x="423" y="5138" width="68" height="20"/><use href="#ic" x="423" y="5138"/><text class="t" x="431.5" y="5152">comment</text><text class="d" x="428" y="5173.8">Comment about the<tspan x="428" dy="11">download</tspan></text></g>
<g id="n-diskFormat"><rect class="s" x="427" y="5203" width="78" height="20"/><rect class="bo" x="423" y="5199" width="78" height="20"/><use href="#ic" x="423" y="5199"/><text class="t" x="431.5" y="5213">diskFormat</text><text class="d" x="428" y="5234.8">The disk format of a virtual<tspan x="428" dy="11">machine image is the format</tspan><tspan x="428" dy="11">of the underlying disk image.</tspan><tspan x="428" dy="11">Virtual appliance vendors</tspan><tspan x="428" dy="11">have different formats for</tspan><tspan x="428" dy="11">laying out the information</tspan><tspan x="428" dy="11">contained in a virtual</tspan><tspan x="428" dy="11">machine disk image.</tspan></text></g>
<g id="n-containerFormat"><rect class="s" x="427" y="5330" width="106" height="20"/><rect class="bo" x="423" y="5326" width="106" height="20"/><use href="#ic" x="423" y="5326"/><text class="t" x="431.5" y="5340">containerFormat</text><text class="d" x="428" y="5361.3">The container format<tspan x="428" dy="11">indicates whether the virtual</tspan><tspan x="428" dy="11">machine image is in a file</tspan><tspan x="428" dy="11">format that also contains</tspan><tspan x="428" dy="11">metadata about the actual</tspan><tspan x="428" dy="11">virtual machine.</tspan></text></g>
<g id="n-cmd"><rect class="s" x="427" y="5435" width="51" height="20"/><rect class="bo" x="423" y="5431" width="51" height="20"/><use href="#ic" x="423" y="5431"/><text class="t" x="431.5" y="5445">cmd</text><text class="d" x="428" y="5466.7">A useful command pertinent<tspan x="428" dy="11">to the download, e.g. for</tspan><tspan x="428" dy="11">getting or installing a tool.</tspan></text></g>

<g id="n-documentation"><rect class="s" x="223.5" y="5606" width="109" height="20"/><rect class="bo" x="220.5" y="5603" width="109" height="20"/><rect class="bo" x="217.5" y="5600" width="109" height="20"/><text class="t" x="226" y="5614">documentation</text><use href="#mi" x="321.5" y="5605"/><text class="c" x="320.5" y="5637.5">0..∞</text><text class="d" x="222.5" y="5653">A link to documentation<tspan x="222.5" dy="11">about the software including</tspan><tspan x="222.5" dy="11">training materials.</tspan></text></g>
<g id="n-doc-url"><rect class="s" x="446.5" y="5540" width="51" height="20"/><rect class="b" x="442.5" y="5536" width="51" height="20"/><use href="#ic" x="442.5" y="5536"/><text class="t" x="451" y="5550">url</text><text class="d" x="447.5" y="5572">Link to documentation on the<tspan x="447.5" dy="11">web for the tool.</tspan></text></g>
<g id="n-doc-type"><rect class="s" x="446.5" y="5607" width="51" height="20"/><rect class="b" x="442.5" y="5603" width="51" height="20"/><use href="#ic" x="442.5" y="5603"/><text class="t" x="451" y="5617">type</text><text class="d" x="447.5" y="5639">Type of documentation that<tspan x="447.5" dy="11">is linked to.</tspan></text></g>
<g id="n-doc-comment"><rect class="s" x="456.5" y="5668.5" width="70.5" height="20"/><rect class="bo" x="452.5" y="5664.5" width="70.5" height="20"/><use href="#ic" x="452.5" y="5664.5"/><use href="#ox" x="446.5" y="5668.5"/><text class="t" x="461" y="5678.5">comment</text><text class="c" x="521" y="5702">0<tspan class="pm" dy="-3">±</tspan><tspan dy="3">..1</tspan><tspan class="pm">±</tspan></text><text class="d" x="457.5" y="5717">Comment about the<tspan x="457.5" dy="11">documentation.</tspan></text></g>

<g id="n-publication"><rect class="s" x="223.5" y="6090.5" width="86" height="20"/><rect class="bo" x="220.5" y="6087.5" width="86" height="20"/><rect class="bo" x="217.5" y="6084.5" width="86" height="20"/><text class="t" x="226" y="6098.5">publication</text><use href="#mi" x="298.5" y="6089.5"/><text class="c" x="297.5" y="6122">0..∞</text><text class="d" x="222.5" y="6137">A publications about the<tspan x="222.5" dy="11">software.</tspan></text></g>
<g id="n-pub-doi"><rect class="s" x="550" y="5764" width="51" height="20"/><rect class="b" x="546" y="5760" width="51" height="20"/><use href="#ic" x="546" y="5760"/><text class="t" x="554.5" y="5774">doi</text><text class="d" x="551" y="5796">Digital Object Identifier<tspan x="551" dy="11">(DOI) of a publication about</tspan><tspan x="551" dy="11">the software.</tspan></text></g>
<g id="n-pub-pmid1"><rect class="s" x="550" y="5836.5" width="52" height="20"/><rect class="bo" x="546" y="5832.5" width="52" height="20"/><use href="#ic" x="546" y="5832.5"/><use href="#ra" x="546" y="5832.5"/><text class="t" x="554.5" y="5846.5">pmid</text><text class="d" x="551" y="5867.6">PubMed Identifier (PMID) of<tspan x="551" dy="11">a publication about the</tspan><tspan x="551" dy="11">software.</tspan></text></g>
<g id="n-pub-pmcid1"><rect class="s" x="550" y="5908.5" width="52" height="20"/><rect class="bo" x="546" y="5904.5" width="52" height="20"/><use href="#ic" x="546" y="5904.5"/><use href="#ra" x="546" y="5904.5"/><text class="t" x="554.5" y="5918.5">pmcid</text><text class="d" x="551" y="5939.7">PubMed Central Identifier<tspan x="551" dy="11">(PMCID) of a publication</tspan><tspan x="551" dy="11">about the software.</tspan></text></g>
<g id="n-pub-pmid2"><rect class="s" x="550" y="5980" width="52" height="20"/><rect class="b" x="546" y="5976" width="52" height="20"/><use href="#ic" x="546" y="5976"/><use href="#ra" x="546" y="5976"/><text class="t" x="554.5" y="5990">pmid</text><text class="d" x="551" y="6012">PubMed Identifier (PMID) of<tspan x="551" dy="11">a publication about the</tspan><tspan x="551" dy="11">software.</tspan></text></g>
<g id="n-pub-pmcid2"><rect class="s" x="550" y="6052.5" width="52" height="20"/><rect class="bo" x="546" y="6048.5" width="52" height="20"/><use href="#ic" x="546" y="6048.5"/><use href="#ra" x="546" y="6048.5"/><text class="t" x="554.5" y="6062.5">pmcid</text><text class="d" x="551" y="6083.6">PubMed Central Identifier<tspan x="551" dy="11">(PMCID) of a publication</tspan><tspan x="551" dy="11">about the software.</tspan></text></g>
<g id="n-pub-pmcid3"><rect class="s" x="536.5" y="6124.5" width="51.5" height="20"/><rect class="b" x="532.5" y="6120.5" width="51.5" height="20"/><use href="#ic" x="532.5" y="6120.5"/><use href="#ra" x="532.5" y="6120.5"/><text class="t" x="541" y="6134.5">pmcid</text><text class="d" x="537.5" y="6155.7">PubMed Central Identifier<tspan x="537.5" dy="11">(PMCID) of a publication</tspan><tspan x="537.5" dy="11">about the software.</tspan></text></g>
<g id="n-pub-type"><rect class="s" x="412" y="6196" width="52" height="20"/><rect class="bo" x="408" y="6192" width="52" height="20"/><use href="#ic" x="408" y="6192"/><text class="t" x="416.5" y="6206">type</text><text class="d" x="413" y="6228">Type of publication.</text></g>

<g id="n-credit"><rect class="s" x="223.5" y="6489.5" width="58" height="20"/><rect class="bo" x="220.5" y="6486.5" width="58" height="20"/><rect class="bo" x="217.5" y="6483.5" width="58" height="20"/><text class="t" x="226" y="6497.5">credit</text><use href="#mi" x="270.5" y="6488.5"/><text class="c" x="269.5" y="6521">0..∞</text><text class="d" x="222.5" y="6536">An individual or organisation<tspan x="222.5" dy="11">that should be credited for</tspan><tspan x="222.5" dy="11">the software.</tspan></text></g>
<g id="n-cr-name"><rect class="s" x="430.5" y="6246.5" width="51" height="20"/><rect class="b" x="426.5" y="6242.5" width="51" height="20"/><use href="#ic" x="426.5" y="6242.5"/><text class="t" x="435" y="6256.5">name</text><text class="d" x="431.5" y="6277.6">Name of the entity that is<tspan x="431.5" dy="11">credited.</tspan></text></g>
<g id="n-cr-email"><rect class="s" x="568.5" y="6307" width="51" height="20"/><rect class="b" x="564.5" y="6303" width="51" height="20"/><use href="#ic" x="564.5" y="6303"/><text class="t" x="573" y="6317">email</text><text class="d" x="569.5" y="6338.3">Email address of the credited<tspan x="569.5" dy="11">entity.</tspan></text></g>
<g id="n-cr-url1"><rect class="s" x="568.5" y="6368.5" width="51" height="20"/><rect class="bo" x="564.5" y="6364.5" width="51" height="20"/><use href="#ic" x="564.5" y="6364.5"/><text class="t" x="573" y="6378.5">url</text><text class="d" x="569.5" y="6399.5">URL for the credited entity,<tspan x="569.5" dy="11">e.g. homepage of an</tspan><tspan x="569.5" dy="11">institute.</tspan></text></g>
<g id="n-cr-url2"><rect class="s" x="499.5" y="6440" width="51" height="20"/><rect class="b" x="495.5" y="6436" width="51" height="20"/><use href="#ic" x="495.5" y="6436"/><text class="t" x="504" y="6450">url</text></g>
<g id="n-orcidId"><rect class="s" x="499.5" y="6473" width="54" height="20"/><rect class="b" x="495.5" y="6469" width="54" height="20"/><use href="#ic" x="495.5" y="6469"/><text class="t" x="504" y="6483">orcidId</text><text class="d" x="500.5" y="6504.7">Unique identifier (ORCID iD)<tspan x="500.5" dy="11">of a person that is credited.</tspan></text></g>
<g id="n-gridId"><rect class="s" x="499.5" y="6534" width="51" height="20"/><rect class="b" x="495.5" y="6530" width="51" height="20"/><use href="#ic" x="495.5" y="6530"/><text class="t" x="504" y="6544">gridId</text><text class="d" x="500.5" y="6565.7">Unique identifier (GRID ID)<tspan x="500.5" dy="11">of an organisation that is</tspan><tspan x="500.5" dy="11">credited.</tspan></text></g>
<g id="n-typeEntity"><rect class="s" x="430.5" y="6606.5" width="69.5" height="20"/><rect class="bo" x="426.5" y="6602.5" width="69.5" height="20"/><use href="#ic" x="426.5" y="6602.5"/><text class="t" x="435" y="6616.5">typeEntity</text><text class="d" x="431.5" y="6638">Type of entity that is<tspan x="431.5" dy="11">credited.</tspan></text></g>
<g id="n-typeRole"><rect class="s" x="430.5" y="6667.5" width="63" height="20"/><rect class="bo" x="426.5" y="6663.5" width="63" height="20"/><use href="#ic" x="426.5" y="6663.5"/><text class="t" x="435" y="6677.5">typeRole</text><text class="d" x="431.5" y="6699">Role performed by credited<tspan x="431.5" dy="11">entity.</tspan></text></g>
<g id="n-cr-comment"><rect class="s" x="430.5" y="6728.5" width="68" height="20"/><rect class="bo" x="426.5" y="6724.5" width="68" height="20"/><use href="#ic" x="426.5" y="6724.5"/><text class="t" x="435" y="6738.5">comment</text><text class="d" x="431.5" y="6760">A comment about the credit.</text></g>

<g id="n-elixirInfo"><rect class="s" x="221.5" y="6955" width="74" height="20"/><rect class="bo" x="217.5" y="6951" width="74" height="20"/><text class="t" x="226" y="6965">elixirInfo</text><use href="#mi" x="286.5" y="6956"/><text class="d" x="222.5" y="6986.7">Information for ELIXIR<tspan x="222.5" dy="11">internal purposes, maintained</tspan><tspan x="222.5" dy="11">by ELIXIR Hub.</tspan></text></g>
<g id="n-lastReviewExternalSab"><rect class="s" x="430.5" y="6778.5" width="139" height="20"/><rect class="b" x="426.5" y="6774.5" width="139" height="20"/><use href="#ic" x="426.5" y="6774.5"/><text class="t" x="435" y="6788.5">lastReviewExternalSab</text><text class="d" x="431.5" y="6810">Date of last review by the<tspan x="431.5" dy="11">External SAB.</tspan></text></g>
<g id="n-lastReviewElixirSab"><rect class="s" x="430.5" y="6839.5" width="121" height="20"/><rect class="b" x="426.5" y="6835.5" width="121" height="20"/><use href="#ic" x="426.5" y="6835.5"/><text class="t" x="435" y="6849.5">lastReviewElixirSab</text><text class="d" x="431.5" y="6871">Date of last review by the<tspan x="431.5" dy="11">ELIXIR SAB.</tspan></text></g>
<g id="n-inSDP"><rect class="s" x="430.5" y="6900.5" width="51" height="20"/><rect class="b" x="426.5" y="6896.5" width="51" height="20"/><use href="#ic" x="426.5" y="6896.5"/><text class="t" x="435" y="6910.5">inSDP</text><text class="d" x="431.5" y="6932">Whether the resource is listed<tspan x="431.5" dy="11">in a node Service Delivery</tspan><tspan x="431.5" dy="11">Plan.</tspan></text></g>
<g id="n-isCoreDataResource"><rect class="s" x="430.5" y="6972" width="128" height="20"/><rect class="b" x="426.5" y="6968" width="128" height="20"/><use href="#ic" x="426.5" y="6968"/><text class="t" x="435" y="6982">isCoreDataResource</text><text class="d" x="431.5" y="7004">Whether the resource is an<tspan x="431.5" dy="11">official core data resource.</tspan></text></g>
<g id="n-platform"><rect class="s" x="430.5" y="7033" width="61.5" height="20"/><rect class="b" x="426.5" y="7029" width="61.5" height="20"/><use href="#ic" x="426.5" y="7029"/><text class="t" x="435" y="7043">platform</text><text class="d" x="431.5" y="7065">ELIXIR platform.</text></g>
<g id="n-node"><rect class="s" x="430.5" y="7083" width="51" height="20"/><rect class="b" x="426.5" y="7079" width="51" height="20"/><use href="#ic" x="426.5" y="7079"/><text class="t" x="435" y="7093">node</text><text class="d" x="431.5" y="7115">ELIXIR node.</text></g>
<g id="n-ex-comment"><rect class="s" x="430.5" y="7133" width="68" height="20"/><rect class="bo" x="426.5" y="7129" width="68" height="20"/><use href="#ic" x="426.5" y="7129"/><text class="t" x="435" y="7143">comment</text><text class="d" x="431.5" y="7165">General comment.</text></g>
</svg>
